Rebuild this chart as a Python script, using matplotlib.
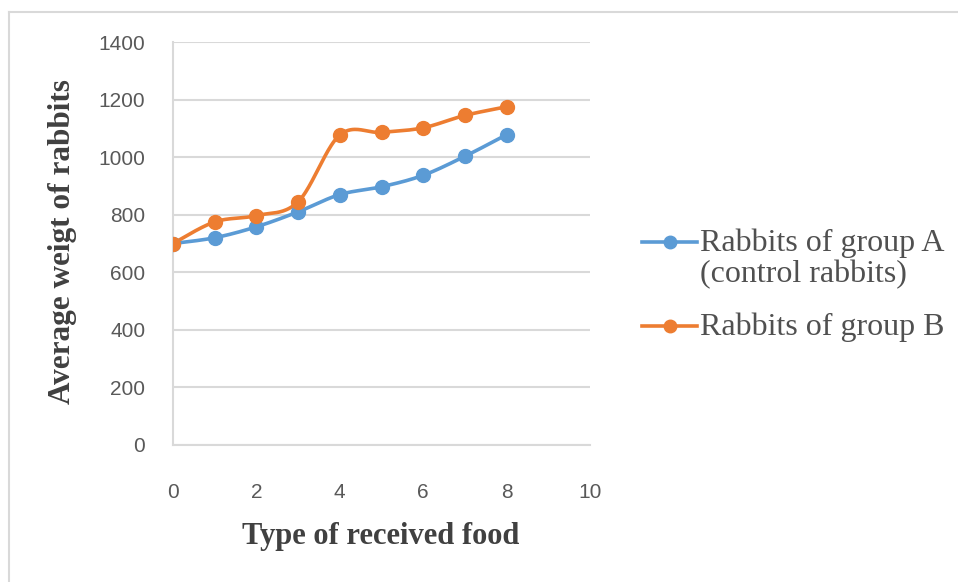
import numpy as np
import matplotlib
matplotlib.use("Agg")
import matplotlib.pyplot as plt
from matplotlib.lines import Line2D

# Data
food_type = [0, 1, 2, 3, 4, 5, 6, 7, 8]
group_a = [700, 720, 758, 810, 870, 897, 937, 1003, 1078]
group_b = [700, 775, 797, 845, 1077, 1086, 1102, 1145, 1175]
label_a = "Rabbits of group A\n(control rabbits)"
label_b = "Rabbits of group B"
x_ticks = [0, 2, 4, 6, 8, 10]
y_ticks = [0, 200, 400, 600, 800, 1000, 1200, 1400]

BLUE = "#5B9BD5"
ORANGE = "#ED7D31"
GRID = "#D9D9D9"
TICK_COLOR = "#595959"
TITLE_COLOR = "#404040"


def smooth(xs, ys, n=40):
    """Catmull-Rom style smoothing through every point (cubic Bezier pieces)."""
    p = np.column_stack([xs, ys]).astype(float)
    pts = np.vstack([p[0], p, p[-1]])
    out = []
    for i in range(1, len(pts) - 2):
        p0, p1, p2, p3 = pts[i - 1], pts[i], pts[i + 1], pts[i + 2]
        c1 = p1 + (p2 - p0) / 6.0
        c2 = p2 - (p3 - p1) / 6.0
        t = np.linspace(0, 1, n)[:, None]
        seg = ((1 - t) ** 3) * p1 + 3 * ((1 - t) ** 2) * t * c1 + 3 * (1 - t) * t ** 2 * c2 + t ** 3 * p2
        out.append(seg if i == 1 else seg[1:])
    seg = np.vstack(out)
    return seg[:, 0], seg[:, 1]


fig = plt.figure(figsize=(9.58, 5.82), dpi=100)
fig.patch.set_facecolor("white")

# outer chart border (left and top edges fall inside the canvas)
bx, by = 8.5 / 958, 1 - 12 / 582
fig.add_artist(Line2D([bx, bx], [-0.05, by], transform=fig.transFigure,
                      color="#D9D9D9", linewidth=1.5))
fig.add_artist(Line2D([bx, 1.05], [by, by], transform=fig.transFigure,
                      color="#D9D9D9", linewidth=1.5))

ax = fig.add_axes([173 / 958, 1 - 445 / 582, 417 / 958, 403 / 582])

series = [(group_a, BLUE, label_a), (group_b, ORANGE, label_b)]
for ys, color, lab in series:
    sx, sy = smooth(food_type, ys)
    ax.plot(sx, sy, color=color, linewidth=2.6, solid_capstyle="round", zorder=3)
    ax.plot(food_type, ys, linestyle="none", marker="o", markersize=10,
            color=color, zorder=4, label=lab)

ax.set_xlim(0, 10)
ax.set_ylim(0, 1400)
ax.set_xticks(x_ticks)
ax.set_yticks(y_ticks)
ax.yaxis.grid(True, color=GRID, linewidth=1.5)
ax.set_axisbelow(True)
for s in ["top", "right"]:
    ax.spines[s].set_visible(False)
for s in ["left", "bottom"]:
    ax.spines[s].set_color(GRID)
    ax.spines[s].set_linewidth(1.5)
ax.tick_params(axis="both", length=0, colors=TICK_COLOR, labelsize=15)
ax.tick_params(axis="y", pad=20)
ax.tick_params(axis="x", pad=27)
for lab in ax.get_xticklabels() + ax.get_yticklabels():
    lab.set_fontfamily("Liberation Sans")

ax.set_xlabel("Type of received food", fontsize=22, fontweight="bold",
              family="Liberation Serif", color=TITLE_COLOR)
ax.xaxis.set_label_coords(0.499, -0.228)
ax.xaxis.label.set_va("center")
ax.set_ylabel("Average weigt of rabbits", fontsize=22.5, fontweight="bold",
              family="Liberation Serif", color=TITLE_COLOR)
ax.yaxis.set_label_coords(-0.266, 0.505)
ax.yaxis.label.set_va("center")

# legend to the right of the plot
legend_rows = [(BLUE, label_a, 242), (ORANGE, label_b, 326)]
for color, lab, ypix in legend_rows:
    yf = 1 - ypix / 582
    fig.add_artist(Line2D([642 / 958, 697 / 958], [yf, yf], transform=fig.transFigure,
                          color=color, linewidth=2.6))
    fig.add_artist(Line2D([669.5 / 958], [yf], transform=fig.transFigure,
                          color=color, marker="o", markersize=9, linestyle="none"))
    fig.text(700 / 958, yf + 13 / 582, lab, ha="left", va="top", fontsize=23,
             family="Liberation Serif", color="#505050", linespacing=1.06)

fig.savefig("out.png", dpi=100)
